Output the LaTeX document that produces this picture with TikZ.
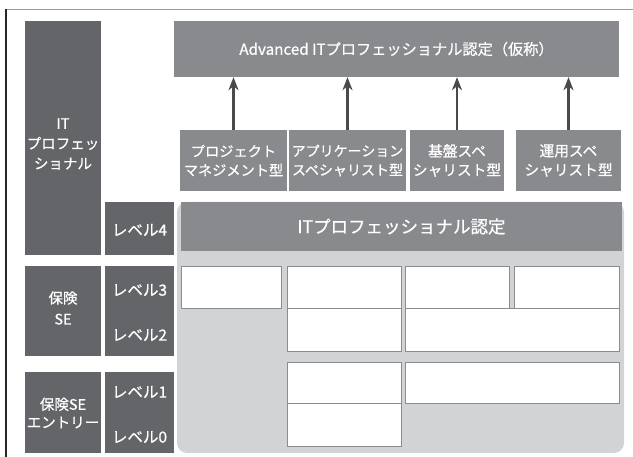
\documentclass[tikz,border=0pt]{standalone}
\usepackage{fontspec}
\setmainfont{Noto Sans CJK JP}[FakeBold=0.6]
\usetikzlibrary{arrows.meta}
\definecolor{darkbox}{HTML}{646569}
\definecolor{midbox}{HTML}{898A8D}
\definecolor{lightreg}{HTML}{D2D3D5}
\definecolor{cellline}{HTML}{8C8C8C}
\definecolor{arrowc}{HTML}{4A4A4C}
\tikzset{
  dbox/.style={fill=darkbox, draw=none, inner sep=0pt, text=white, align=center},
  mbox/.style={fill=midbox, draw=none, inner sep=0pt, text=white, align=center},
  cell/.style={fill=white, draw=cellline, line width=0.9pt, inner sep=0pt},
  lbl/.style={text=white, inner sep=0pt, align=center, font=\fontsize{14.5}{19}\selectfont},
  lvl/.style={text=white, inner sep=0pt, font=\fontsize{15.5}{19}\selectfont},
  up/.style={draw=arrowc, line width=2.8pt, -{Stealth[length=13pt,width=10pt,inset=4pt]}},
}
\begin{document}
\begin{tikzpicture}[x=1pt,y=-1pt]
\useasboundingbox (0,0) rectangle (633,457);
% frame
\draw[line width=1.5pt, draw=gray!80] (6,9.5) -- (633,9.5);
\draw[line width=1.5pt, draw=black!85] (6,9) -- (6,457);
% left column
\node[dbox, minimum width=76pt, minimum height=234pt] (itp) at (63,138) {};
\node[lbl, font=\fontsize{14.5}{20}\selectfont] (itpt) at (63,144) {IT\\プロフェッ\\ショナル};
\node[dbox, minimum width=69pt, minimum height=53pt] (lv4) at (139.5,228.5) {};
\node[lvl] (lv4t) at (139.5,230) {レベル4};
\node[dbox, minimum width=76pt, minimum height=90pt] (hk) at (63,311) {};
\node[lbl, font=\fontsize{14.5}{21}\selectfont] (hkt) at (63,308) {保険\\SE};
\node[dbox, minimum width=69pt, minimum height=90pt] (lv32) at (139.5,311) {};
\node[lvl] (lv3t) at (139.5,290) {レベル3};
\node[lvl] (lv2t) at (139.5,335) {レベル2};
\node[dbox, minimum width=76pt, minimum height=81pt] (en) at (63,412.5) {};
\node[lbl, font=\fontsize{14.5}{18}\selectfont] (ent) at (63,413) {保険SE\\エントリー};
\node[dbox, minimum width=69pt, minimum height=81pt] (lv10) at (139.5,412.5) {};
\node[lvl] (lv1t) at (139.5,392) {レベル1};
\node[lvl] (lv0t) at (139.5,437) {レベル0};
% advanced
\node[mbox, minimum width=445pt, minimum height=56pt, font=\fontsize{15.2}{18}\selectfont] (adv) at (396.5,49) {Advanced ITプロフェッショナル認定（仮称）};
\node[mbox, minimum width=107pt, minimum height=61pt, font=\fontsize{14.2}{19}\selectfont] (s1) at (233.5,160.5) {プロジェクト\\マネジメント型};
\node[mbox, minimum width=117pt, minimum height=61pt, font=\fontsize{14}{19}\selectfont] (s2) at (347.5,160.5) {アプリケーション\\スペシャリスト型};
\node[mbox, minimum width=94pt, minimum height=61pt, font=\fontsize{14.7}{19}\selectfont] (s3) at (457,160.5) {基盤スペ\\シャリスト型};
\node[mbox, minimum width=105pt, minimum height=61pt, font=\fontsize{14.7}{19}\selectfont] (s4) at (568.5,160.5) {運用スペ\\シャリスト型};
\draw[up] (s1.north) -- (s1.north |- adv.south);
\draw[up] (s2.north) -- (s2.north |- adv.south);
\draw[up] (s3.north) -- (s3.north |- adv.south);
\draw[up] (s4.north) -- (s4.north |- adv.south);
% region
\fill[lightreg, rounded corners=10pt] (177,202) rectangle (624,453);
\node[mbox, minimum width=441pt, minimum height=49pt, font=\fontsize{17.5}{20}\selectfont] (hdr) at (401.5,226.5) {ITプロフェッショナル認定};
% cells
\node[cell, minimum width=100pt, minimum height=42pt] (cA) at (231,287) {};
\node[cell, minimum width=114pt, minimum height=42pt] (cB) at (344,287) {};
\node[cell, minimum width=104pt, minimum height=42pt] (cC) at (457,287) {};
\node[cell, minimum width=105pt, minimum height=42pt] (cD) at (566.5,287) {};
\node[cell, minimum width=114pt, minimum height=43pt] (cE) at (344,329.5) {};
\node[cell, minimum width=214pt, minimum height=43pt] (cF) at (512,329.5) {};
\node[cell, minimum width=114pt, minimum height=41pt] (cG) at (344,382.5) {};
\node[cell, minimum width=214pt, minimum height=41pt] (cH) at (512,382.5) {};
\node[cell, minimum width=114pt, minimum height=43pt] (cI) at (344,424.5) {};
\end{tikzpicture}
\end{document}
